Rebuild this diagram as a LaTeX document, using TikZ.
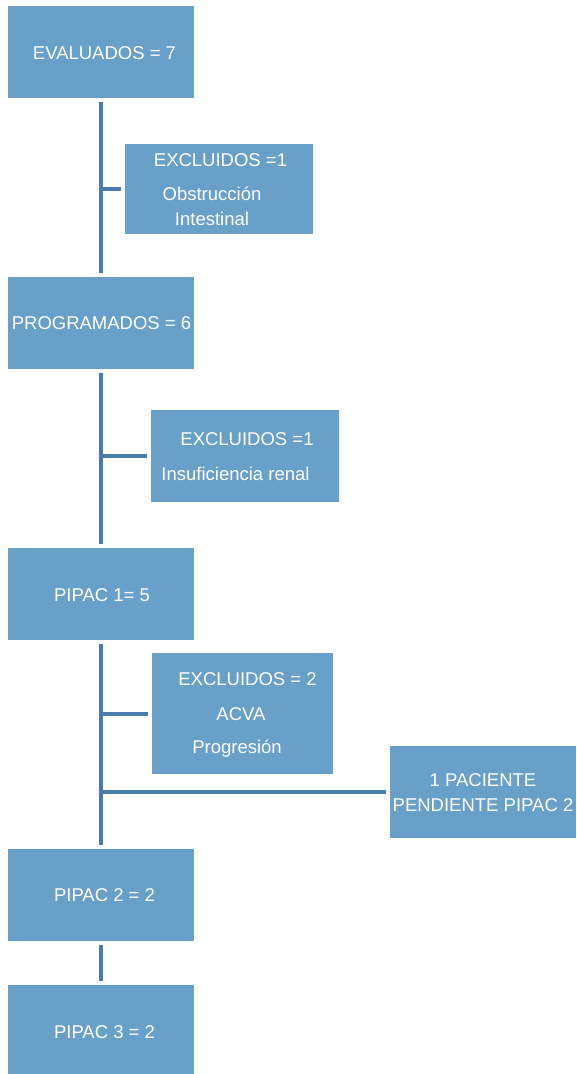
\documentclass[tikz,border=0pt]{standalone}
\usepackage{fontspec}
\setmainfont{Liberation Sans}
\definecolor{boxfill}{RGB}{104,160,202}
\definecolor{linecol}{RGB}{72,125,174}
\begin{document}
\begin{tikzpicture}[x=1pt,y=-1pt,
  box/.style={fill=boxfill, draw=none, inner sep=0pt, minimum width=186pt, minimum height=92pt},
  txt/.style={text=white, inner sep=0pt, anchor=base, font=\fontsize{18.5}{22}\selectfont},
  conn/.style={draw=linecol, line width=4pt},
  stem/.style={conn, shorten <=4pt, shorten >=4pt},
  branch/.style={conn, shorten >=4pt}]
\useasboundingbox (0,0) rectangle (576,1074);
% boxes
\node[box] (b1) at (101,52) {};
\node[box, minimum width=188pt, minimum height=90pt] (b2) at (219,189) {};
\node[box] (b3) at (101,323) {};
\node[box, minimum width=188pt] (b4) at (245,456) {};
\node[box, minimum width=181pt, minimum height=121pt] (b5x) at (242.5,713.5) {};
\node[box] (b5) at (101,594) {};
\node[box] (b7) at (483,792) {};
\node[box] (b8) at (101,895) {};
\node[box, minimum height=91pt] (b9) at (101,1030.5) {};
% texts
\node[txt] (t1) at (104.5,59.3) {EVALUADOS = 7};
\node[txt] (t2a) at (220.5,166.6) {EXCLUIDOS =1};
\node[txt] (t2b) at (212,200) {Obstrucción};
\node[txt] (t2c) at (212,225) {Intestinal};
\node[txt] (t3) at (101.5,329.6) {PROGRAMADOS = 6};
\node[txt] (t4a) at (247,445.7) {EXCLUIDOS =1};
\node[txt] (t4b) at (235.5,480) {Insuficiencia renal};
\node[txt] (t5) at (102,601.6) {PIPAC 1= 5};
\node[txt] (t6a) at (247.5,685) {EXCLUIDOS = 2};
\node[txt] (t6b) at (241,720) {ACVA};
\node[txt] (t6c) at (237,753.3) {Progresión};
\node[txt] (t7a) at (483,786) {1 PACIENTE};
\node[txt] (t7b) at (483,811) {PENDIENTE PIPAC 2};
\node[txt] (t8) at (104.5,901.6) {PIPAC 2 = 2};
\node[txt] (t9) at (104.5,1038.6) {PIPAC 3 = 2};
% connectors
\draw[stem] (b1.south) -- (b3.north);
\coordinate (j1) at (b1.south |- b2.west);
\draw[branch] (j1) -- (b2.west);
\draw[stem] (b3.south) -- (b5.north);
\coordinate (j2) at (b3.south |- b4.west);
\draw[branch] (j2) -- (b4.west);
\draw[stem] (b5.south) -- (b8.north);
\coordinate (j3) at (b5.south |- b5x.west);
\draw[branch] (j3) -- (b5x.west);
\coordinate (j4) at (b5.south |- b7.west);
\draw[branch] (j4) -- (b7.west);
\draw[stem] (b8.south) -- (b9.north);
\end{tikzpicture}
\end{document}
